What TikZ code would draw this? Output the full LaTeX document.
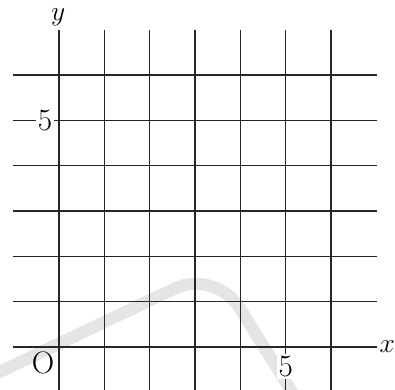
\documentclass[tikz,border=0pt]{standalone}
\begin{document}
\begin{tikzpicture}[x=1cm,y=1cm,
  gridline/.style={draw=black!85, line width=0.8pt},
  lbl/.style={font=\fontsize{19.5}{22}\selectfont, inner sep=1pt},
  axlbl/.style={font=\fontsize{17}{20}\selectfont, inner sep=0.5pt},
  wmark/.style={draw=black!10, line width=0.27cm, rounded corners=1cm}]
\useasboundingbox (-1.3016,-0.9265) rectangle (7.412,7.655);
\begin{scope}
\clip (-1.3016,-0.9265) rectangle (7.412,7.655);
\draw[wmark] (-1.6,-0.69) -- (3.45,1.72) -- (5.3,-1.25);
\foreach \i in {0,...,6} {
  \draw[gridline] (\i,-1) -- (\i,6.99);
  \draw[gridline] (-1.01,\i) -- (7.01,\i);
}
\end{scope}
\node[lbl] (O) at (-0.353,-0.36) {O};
\node[lbl, fill=white] (y5) at (-0.31,5.0) {5};
\node[lbl, fill=white] (x5) at (5.0,-0.43) {5};
\node[axlbl] (xl) at (7.24,0.02) {$x$};
\node[axlbl] (yl) at (-0.02,7.27) {$y$};
\end{tikzpicture}
\end{document}
